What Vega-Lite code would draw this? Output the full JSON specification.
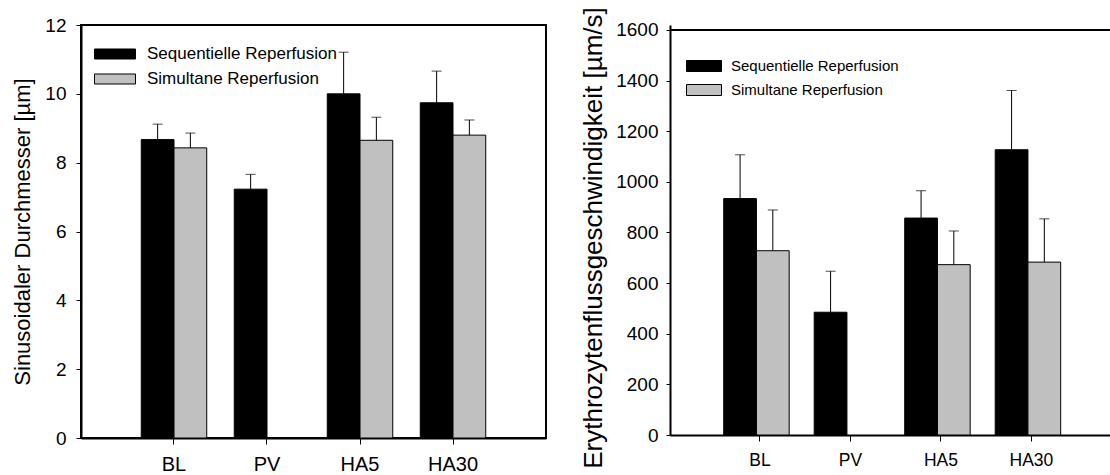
{
  "$schema": "https://vega.github.io/schema/vega-lite/v6.json",
  "padding": {"left": 10, "top": 6, "right": 0, "bottom": 0},
  "background": "white",
  "config": {
    "view": {"stroke": null},
    "font": "Liberation Sans",
    "axis": {"grid": false, "domainColor": "black", "tickColor": "black", "labelColor": "black", "titleColor": "black", "domainWidth": 2, "tickWidth": 1, "titleFontWeight": "normal"},
    "concat": {"spacing": 33}
  },
  "datasets": {
    "diam": [
      {"time": "BL", "group": "Sequentielle Reperfusion", "mean": 8.67, "upper": 9.12},
      {"time": "BL", "group": "Simultane Reperfusion", "mean": 8.43, "upper": 8.86},
      {"time": "PV", "group": "Sequentielle Reperfusion", "mean": 7.23, "upper": 7.66},
      {"time": "HA5", "group": "Sequentielle Reperfusion", "mean": 10.0, "upper": 11.21},
      {"time": "HA5", "group": "Simultane Reperfusion", "mean": 8.65, "upper": 9.32},
      {"time": "HA30", "group": "Sequentielle Reperfusion", "mean": 9.74, "upper": 10.66},
      {"time": "HA30", "group": "Simultane Reperfusion", "mean": 8.8, "upper": 9.24}
    ],
    "velo": [
      {"time": "BL", "group": "Sequentielle Reperfusion", "mean": 934, "upper": 1107},
      {"time": "BL", "group": "Simultane Reperfusion", "mean": 728, "upper": 889},
      {"time": "PV", "group": "Sequentielle Reperfusion", "mean": 485, "upper": 647},
      {"time": "HA5", "group": "Sequentielle Reperfusion", "mean": 857, "upper": 965},
      {"time": "HA5", "group": "Simultane Reperfusion", "mean": 673, "upper": 806},
      {"time": "HA30", "group": "Sequentielle Reperfusion", "mean": 1127, "upper": 1361},
      {"time": "HA30", "group": "Simultane Reperfusion", "mean": 683, "upper": 854}
    ]
  },
  "resolve": {"scale": {"color": "independent"}, "legend": {"color": "independent"}},
  "hconcat": [
    {
      "width": 465,
      "height": 413,
      "data": {"name": "diam"},
      "view": {"stroke": "black", "strokeWidth": 2},
      "layer": [
        {
          "mark": {"type": "bar", "stroke": "black", "strokeWidth": 1},
          "encoding": {
            "x": {"field": "time", "type": "nominal", "sort": ["BL", "PV", "HA5", "HA30"], "scale": {"paddingInner": 0.296, "paddingOuter": 0.648}, "axis": {"title": null, "labelAngle": 0, "labelFontSize": 20, "labelPadding": 10, "tickSize": 6}},
            "xOffset": {"field": "group", "type": "nominal", "sort": ["Sequentielle Reperfusion", "Simultane Reperfusion"]},
            "y": {"field": "mean", "type": "quantitative", "scale": {"domain": [0, 12]}, "axis": {"title": "Sinusoidaler Durchmesser [µm]", "values": [0, 2, 4, 6, 8, 10, 12], "titleFontSize": 22, "labelFontSize": 19, "tickSize": 5, "labelPadding": 10, "titlePadding": 10}},
            "color": {"field": "group", "type": "nominal", "scale": {"domain": ["Sequentielle Reperfusion", "Simultane Reperfusion"], "range": ["black", "#c0c0c0"]},
              "legend": {"title": null, "orient": "none", "legendX": 13, "legendY": 16.5, "symbolType": "M-1,-0.244H1V0.244H-1Z", "symbolSize": 1681, "symbolStrokeColor": "black", "symbolStrokeWidth": 1, "labelFontSize": 17, "labelFont": "Liberation Sans", "labelColor": "black", "labelOffset": 11, "labelLimit": 400, "padding": 0, "rowPadding": 0, "clipHeight": 25}}
          }
        },
        {
          "mark": {"type": "rule", "color": "black", "strokeWidth": 1},
          "encoding": {
            "x": {"field": "time", "type": "nominal", "sort": ["BL", "PV", "HA5", "HA30"]},
            "xOffset": {"field": "group", "type": "nominal", "sort": ["Sequentielle Reperfusion", "Simultane Reperfusion"]},
            "y": {"field": "mean", "type": "quantitative"},
            "y2": {"field": "upper"}
          }
        },
        {
          "mark": {"type": "tick", "color": "black", "thickness": 1, "size": 10},
          "encoding": {
            "x": {"field": "time", "type": "nominal", "sort": ["BL", "PV", "HA5", "HA30"]},
            "xOffset": {"field": "group", "type": "nominal", "sort": ["Sequentielle Reperfusion", "Simultane Reperfusion"]},
            "y": {"field": "upper", "type": "quantitative"}
          }
        }
      ]
    },
    {
      "width": 443,
      "height": 410,
      "data": {"name": "velo"},
      "layer": [
        {
          "mark": {"type": "bar", "stroke": "black", "strokeWidth": 1},
          "encoding": {
            "x": {"field": "time", "type": "nominal", "sort": ["BL", "PV", "HA5", "HA30"], "scale": {"paddingInner": 0.2, "paddingOuter": 0.5475, "align": 0.542}, "axis": {"title": null, "labelAngle": 0, "labelFontSize": 17.5, "labelPadding": 10, "tickSize": 6}},
            "xOffset": {"field": "group", "type": "nominal", "sort": ["Sequentielle Reperfusion", "Simultane Reperfusion"]},
            "y": {"field": "mean", "type": "quantitative", "scale": {"domain": [0, 1619.75], "nice": false}, "axis": {"title": "Erythrozytenflussgeschwindigkeit [µm/s]", "values": [0, 200, 400, 600, 800, 1000, 1200, 1400, 1600], "format": "d", "titleFontSize": 26, "titleY": 212.5, "labelFontSize": 19, "tickSize": 4, "labelPadding": 8, "titlePadding": 9}},
            "color": {"field": "group", "type": "nominal", "scale": {"domain": ["Sequentielle Reperfusion", "Simultane Reperfusion"], "range": ["black", "#c0c0c0"]},
              "legend": {"title": null, "orient": "none", "legendX": 16, "legendY": 29, "symbolType": "M-1,-0.314H1V0.314H-1Z", "symbolSize": 1225, "symbolStrokeColor": "black", "symbolStrokeWidth": 1, "labelFontSize": 15, "labelFont": "Liberation Sans", "labelColor": "black", "labelOffset": 9, "labelLimit": 400, "padding": 0, "rowPadding": 0, "clipHeight": 24}}
          }
        },
        {
          "mark": {"type": "rule", "color": "black", "strokeWidth": 1},
          "encoding": {
            "x": {"field": "time", "type": "nominal", "sort": ["BL", "PV", "HA5", "HA30"]},
            "xOffset": {"field": "group", "type": "nominal", "sort": ["Sequentielle Reperfusion", "Simultane Reperfusion"]},
            "y": {"field": "mean", "type": "quantitative"},
            "y2": {"field": "upper"}
          }
        },
        {
          "mark": {"type": "tick", "color": "black", "thickness": 1, "size": 10},
          "encoding": {
            "x": {"field": "time", "type": "nominal", "sort": ["BL", "PV", "HA5", "HA30"]},
            "xOffset": {"field": "group", "type": "nominal", "sort": ["Sequentielle Reperfusion", "Simultane Reperfusion"]},
            "y": {"field": "upper", "type": "quantitative"}
          }
        },
        {
          "data": {"values": [{}]},
          "mark": {"type": "rule", "color": "black", "strokeWidth": 2},
          "encoding": {"y": {"datum": 1600}}
        }
      ]
    }
  ]
}
